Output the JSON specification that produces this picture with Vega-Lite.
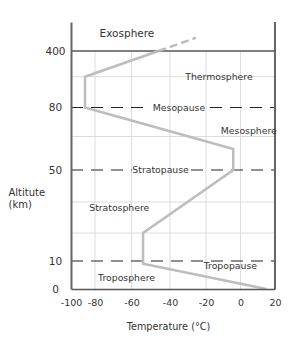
{
  "$schema": "https://vega.github.io/schema/vega-lite/v6.json",
  "width": 204,
  "height": 267,
  "autosize": "none",
  "padding": {"left": 71, "top": 22, "right": 27, "bottom": 49},
  "config": {"view": {"stroke": null}, "font": "DejaVu Sans"},
  "datasets": {
    "hgrid": [{"alt": 20}, {"alt": 35}, {"alt": 65}, {"alt": 240}],
    "vgrid": [{"temp": -80}, {"temp": -60}, {"temp": -40}, {"temp": -20}, {"temp": 0}],
    "pauses": [
      {"alt": 10, "t1": -100, "t2": 20},
      {"alt": 50, "t1": -100, "t2": -59.7},
      {"alt": 50, "t1": -28.3, "t2": 20},
      {"alt": 80, "t1": -100, "t2": -50.4},
      {"alt": 80, "t1": -17.7, "t2": 20}
    ],
    "profile": [
      {"i": 1, "temp": 15, "alt": 0},
      {"i": 2, "temp": -54, "alt": 9},
      {"i": 3, "temp": -54, "alt": 20},
      {"i": 4, "temp": -4.2, "alt": 50},
      {"i": 5, "temp": -4.2, "alt": 59.4},
      {"i": 6, "temp": -88.3, "alt": 80},
      {"i": 7, "temp": -88.3, "alt": 240},
      {"i": 8, "temp": -46, "alt": 400}
    ],
    "exo": [
      {"i": 1, "temp": -46, "alt": 400},
      {"i": 2, "temp": -25.6, "alt": 473}
    ],
    "labels": [
      {"name": "Thermosphere", "temp": -12.5, "alt": 237},
      {"name": "Mesopause", "temp": -35, "alt": 80},
      {"name": "Mesosphere", "temp": 4.8, "alt": 67.8},
      {"name": "Stratopause", "temp": -44.9, "alt": 50},
      {"name": "Stratosphere", "temp": -66.7, "alt": 32.2},
      {"name": "Tropopause", "temp": -5.9, "alt": 8.3},
      {"name": "Troposphere", "temp": -62.7, "alt": 3.8}
    ],
    "exolabel": [{"name": "Exosphere", "temp": -62.5, "alt": 494}]
  },
  "layer": [
    {
      "data": {"name": "hgrid"},
      "mark": {"type": "rule", "color": "#dcdcdc", "strokeWidth": 1},
      "encoding": {
        "y": {
          "field": "alt",
          "type": "quantitative",
          "scale": {"domain": [0, 10, 20, 35, 50, 65, 80, 240, 400, 560], "range": [267, 239, 211, 180, 148, 114.5, 85.5, 54.7, 29, 0], "zero": false, "nice": false},
          "axis": {
            "values": [0, 10, 50, 80, 400],
            "tickCount": 20,
            "grid": false,
            "ticks": false,
            "domainColor": "#666",
            "domainWidth": 2,
            "labelAlign": "center",
            "labelBaseline": "middle",
            "labelPadding": 16,
            "labelFontSize": 10.5,
            "labelColor": "#333",
            "labelFlush": false,
            "labelOverlap": false,
            "title": ["Altitute", "(km)"],
            "titleAngle": 0,
            "titleAlign": "left",
            "titleBaseline": "top",
            "titleX": -63,
            "titleY": 165,
            "titleFontSize": 10,
            "titleFontWeight": "normal",
            "titleColor": "#333",
            "titleLineHeight": 12,
            "zindex": 1
          }
        },
        "x": {
          "datum": -100,
          "type": "quantitative",
          "scale": {"domain": [-100, -80, -60, -40, -20, 0, 20], "range": [0, 24, 60.5, 99, 135, 169.5, 204], "zero": false, "nice": false},
          "axis": {
            "values": [-100, -80, -60, -40, -20, 0, 20],
            "tickCount": 20,
            "grid": false,
            "ticks": false,
            "domainColor": "#555",
            "domainWidth": 1.5,
            "labelExpr": "datum.value + ''",
            "labelFontSize": 9.5,
            "labelColor": "#333",
            "labelPadding": 8,
            "labelFlush": false,
            "labelOverlap": false,
            "title": "Temperature (°C)",
            "titleFontSize": 9.7,
            "titleFontWeight": "normal",
            "titleColor": "#333",
            "titleX": 97,
            "titleY": 37,
            "titleBaseline": "middle",
            "zindex": 1
          }
        },
        "x2": {"datum": 20}
      }
    },
    {
      "data": {"name": "vgrid"},
      "mark": {"type": "rule", "color": "#dcdcdc", "strokeWidth": 1},
      "encoding": {
        "x": {"field": "temp", "type": "quantitative"},
        "y": {"datum": 0, "type": "quantitative"},
        "y2": {"datum": 400}
      }
    },
    {
      "data": {"name": "pauses"},
      "mark": {"type": "rule", "color": "#222", "strokeWidth": 1.2, "strokeDash": [12, 8]},
      "encoding": {
        "x": {"field": "t1", "type": "quantitative"},
        "x2": {"field": "t2"},
        "y": {"field": "alt", "type": "quantitative"}
      }
    },
    {
      "data": {"values": [{}]},
      "mark": {"type": "rule", "color": "#555", "strokeWidth": 1.5},
      "encoding": {
        "y": {"datum": 400, "type": "quantitative"}
      }
    },
    {
      "data": {"values": [{}]},
      "mark": {"type": "rule", "color": "#666", "strokeWidth": 2},
      "encoding": {
        "x": {"datum": 20, "type": "quantitative"}
      }
    },
    {
      "data": {"name": "profile"},
      "mark": {"type": "line", "color": "#bdbdbd", "strokeWidth": 2.5},
      "encoding": {
        "x": {"field": "temp", "type": "quantitative"},
        "y": {"field": "alt", "type": "quantitative"},
        "order": {"field": "i"}
      }
    },
    {
      "data": {"name": "exo"},
      "mark": {"type": "line", "color": "#bdbdbd", "strokeWidth": 2.5, "strokeDash": [8, 4]},
      "encoding": {
        "x": {"field": "temp", "type": "quantitative"},
        "y": {"field": "alt", "type": "quantitative"},
        "order": {"field": "i"}
      }
    },
    {
      "data": {"name": "labels"},
      "mark": {"type": "text", "fontSize": 9.3, "color": "#333", "align": "center", "baseline": "middle"},
      "encoding": {
        "x": {"field": "temp", "type": "quantitative"},
        "y": {"field": "alt", "type": "quantitative"},
        "text": {"field": "name"}
      }
    },
    {
      "data": {"name": "exolabel"},
      "mark": {"type": "text", "fontSize": 10.5, "color": "#333", "align": "center", "baseline": "middle"},
      "encoding": {
        "x": {"field": "temp", "type": "quantitative"},
        "y": {"field": "alt", "type": "quantitative"},
        "text": {"field": "name"}
      }
    }
  ]
}
